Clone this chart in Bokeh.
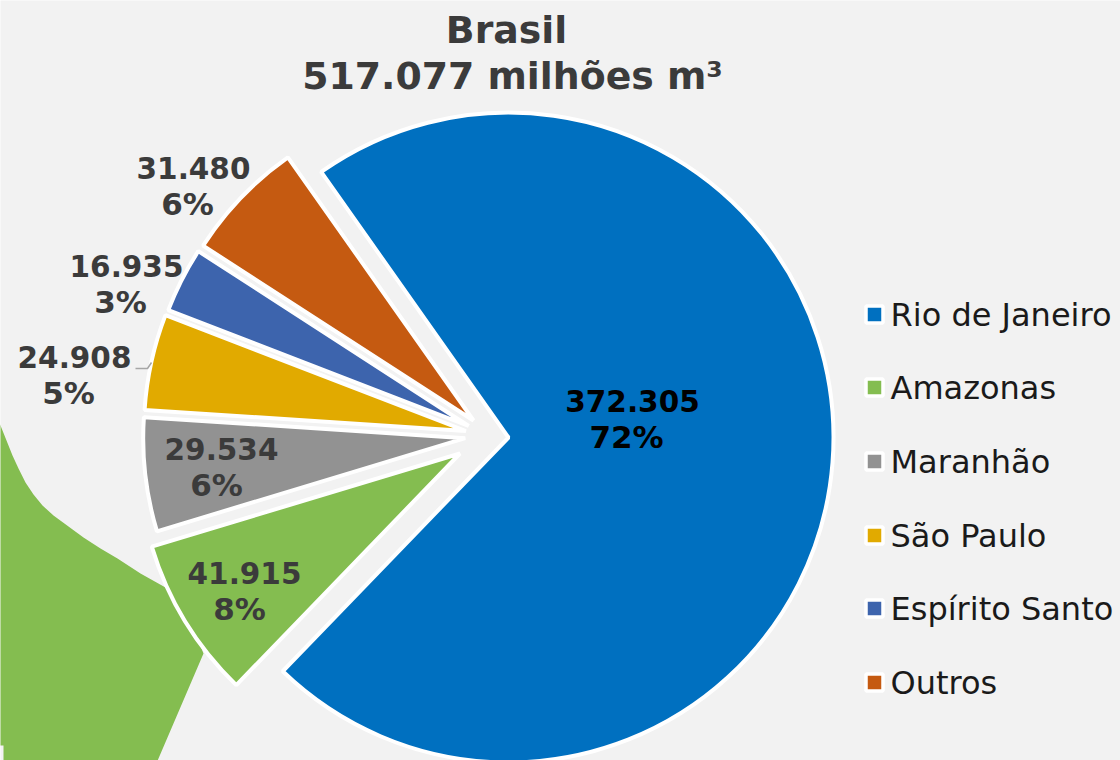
from math import pi
import numpy as np
from bokeh.embed import file_html
from bokeh.resources import INLINE
from bokeh.plotting import figure
from bokeh.models import Range1d, ColumnDataSource
from bokeh.core.properties import value

# ---- data ----
title_lines = ["Brasil", "517.077 milhões m³"]
regions = ["Rio de Janeiro", "Amazonas", "Maranhão", "São Paulo", "Espírito Santo", "Outros"]
volumes = [372305, 41915, 29534, 24908, 16935, 31480]
colors = ["#0070c0", "#84bd50", "#929292", "#e1aa00", "#3d64ad", "#c55a11"]

# ---- layout (page pixels of the reference; y grows downward) ----
WIDTH, HEIGHT = 1120, 760
slice_cx = [508, 459.5, 464.7, 465.4, 468.2, 473]
slice_cy = [437, 453, 437.7, 430.5, 425.5, 420]
slice_r = [325, 322, 322, 322, 322, 322]
first_angle_deg = 125.2
val_lbl_x = [632, 244, 221, 74, 126, 193]
val_lbl_y = [400, 572, 448, 356, 265, 167]
pct_lbl_x = [626, 239, 216, 68, 120, 187]
pct_lbl_y = [436, 608, 484, 392, 301, 203]
lbl_colors = ["#000000", "#3b3b3b", "#3b3b3b", "#3b3b3b", "#3b3b3b", "#3b3b3b"]
legend_y = [314, 387, 461, 535, 608, 682]
leader_x = [135, 147, 151]
leader_y = [368, 368, 362]
# backdrop: fragment of the Amazonas map shape behind the pie
map_x = [-5, 0, 6, 12, 18, 25, 33, 42, 53, 68, 83, 100, 117, 140, 165, 190, 203, 155, 3, 3, -5]
map_y = [415, 425, 440, 455, 468, 482, 494, 505, 515, 526, 537, 548, 558, 573, 587, 620, 653, 765, 765, 745, 745]


def fy(py):
    return HEIGHT - np.asarray(py, dtype=float)


total = sum(volumes)
shares = np.array(volumes) / total
start = np.radians(first_angle_deg) - 2 * pi * np.concatenate([[0], np.cumsum(shares)[:-1]])
end = start - 2 * pi * shares

p = figure(
    width=WIDTH, height=HEIGHT,
    x_range=Range1d(0, WIDTH), y_range=Range1d(0, HEIGHT),
    output_backend="svg", toolbar_location=None,
    background_fill_color="#f2f2f2", border_fill_color="#f2f2f2",
    min_border=0, outline_line_color=None,
)
p.axis.visible = False
p.grid.visible = False

p.patch(map_x, fy(map_y), fill_color=colors[1], line_color=None)

src = ColumnDataSource(dict(
    x=slice_cx, y=fy(slice_cy), r=slice_r, s=start, e=end, c=colors,
))
p.wedge(x="x", y="y", radius="r", start_angle="s", end_angle="e", direction="clock",
        fill_color="c", line_color="white", line_width=4, source=src)

p.line(leader_x, fy(leader_y), line_color="#a6a6a6", line_width=1.5)

font = value("DejaVu Sans")
val_txt = [f"{v:,}".replace(",", ".") for v in volumes]
pct_txt = [f"{round(s * 100)}%" for s in shares]
p.text(val_lbl_x, fy(val_lbl_y), text=val_txt, text_color=lbl_colors, text_font=font,
       text_font_style="bold", text_font_size="29.5px",
       text_align="center", text_baseline="middle")
p.text(pct_lbl_x, fy(pct_lbl_y), text=pct_txt, text_color=lbl_colors, text_font=font,
       text_font_style="bold", text_font_size="31px",
       text_align="center", text_baseline="middle")

p.text([506, 512], fy([29.5, 75]), text=title_lines, text_color="#3b3b3b", text_font=font,
       text_font_style="bold", text_font_size="37.8px",
       text_align="center", text_baseline="middle")

p.scatter([874] * 6, fy(legend_y), marker="square", size=17, fill_color=colors,
          line_color="white", line_width=3.5)
p.text([890] * 6, fy(legend_y), text=regions, text_color="#1a1a1a", text_font=font,
       text_font_size="32px", text_align="left", text_baseline="middle")

open("out.html", "w").write(file_html(p, INLINE))
